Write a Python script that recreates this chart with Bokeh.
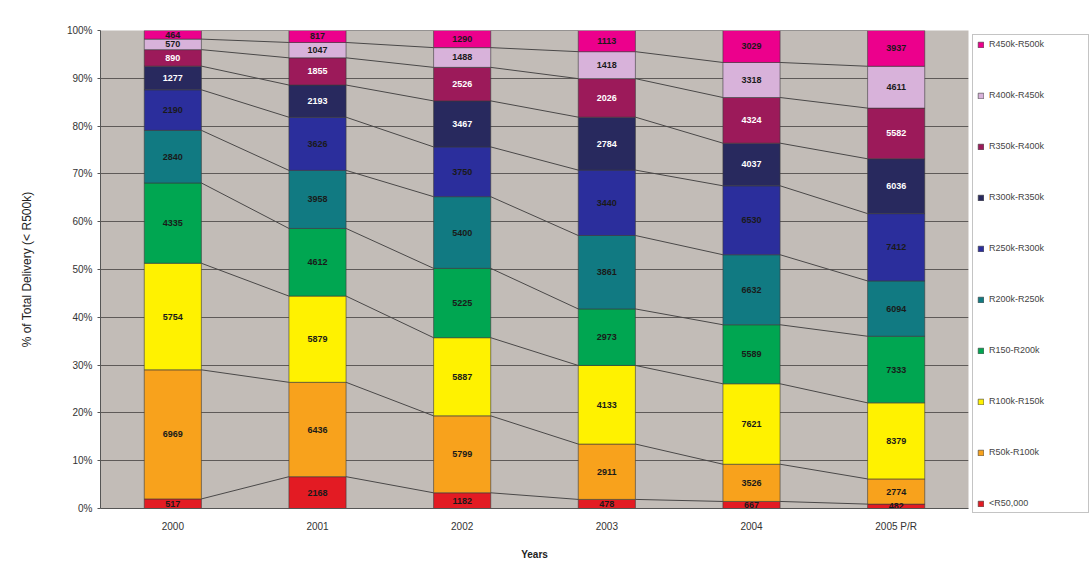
from bokeh.plotting import figure
from bokeh.models import (ColumnDataSource, FixedTicker, Legend, LegendItem, Range1d)
from bokeh.embed import file_html
from bokeh.resources import INLINE
from bokeh.core.properties import value

# Housing delivery per price band (units), by year
years = ["2000", "2001", "2002", "2003", "2004", "2005 P/R"]
bands = ["<R50,000", "R50k-R100k", "R100k-R150k", "R150-R200k", "R200k-R250k",
         "R250k-R300k", "R300k-R350k", "R350k-R400k", "R400k-R450k", "R450k-R500k"]

lt50 = [517, 2168, 1182, 478, 667, 482]
r50_100 = [6969, 6436, 5799, 2911, 3526, 2774]
r100_150 = [5754, 5879, 5887, 4133, 7621, 8379]
r150_200 = [4335, 4612, 5225, 2973, 5589, 7333]
r200_250 = [2840, 3958, 5400, 3861, 6632, 6094]
r250_300 = [2190, 3626, 3750, 3440, 6530, 7412]
r300_350 = [1277, 2193, 3467, 2784, 4037, 6036]
r350_400 = [890, 1855, 2526, 2026, 4324, 5582]
r400_450 = [570, 1047, 1488, 1418, 3318, 4611]
r450_500 = [464, 817, 1290, 1113, 3029, 3937]

series = [lt50, r50_100, r100_150, r150_200, r200_250,
          r250_300, r300_350, r350_400, r400_450, r450_500]

colors = ["#E31B23", "#F8A21C", "#FFF200", "#00A651", "#117A82",
          "#2B2E9C", "#28295E", "#9C1A5A", "#D8B2DA", "#EC008C"]
label_colors = ["#1a1a1a", "#1a1a1a", "#1a1a1a", "#1a1a1a", "#1a1a1a",
                "#1a1a1a", "#ffffff", "#ffffff", "#1a1a1a", "#1a1a1a"]

font = "Liberation Sans"
bar_w = 0.395
xs = list(range(len(years)))
totals = [sum(s[i] for s in series) for i in xs]

# percentage shares and cumulative stacking
pct = [[s[i] / totals[i] * 100 for i in xs] for s in series]
data = {"x": xs}
for b, p_ in zip(bands, pct):
    data[b] = p_
src = ColumnDataSource(data)

p = figure(frame_width=868, frame_height=478,
           x_range=Range1d(-0.5, 5.5), y_range=Range1d(0, 100),
           output_backend="svg", toolbar_location=None,
           min_border_left=100, min_border_right=0,
           min_border_top=30, min_border_bottom=55,
           background_fill_color="#C2BCB7", border_fill_color="white",
           outline_line_color=None)

renderers = p.vbar_stack(bands, x="x", width=bar_w, color=colors, source=src,
                         line_color="#3a3a3a", line_width=0.6)

# series lines joining the top of each band between neighbouring bars
lo = [0.0] * len(xs)
seg = {"x0": [], "y0": [], "x1": [], "y1": []}
lab = {"x": [], "y": [], "t": [], "c": []}
for k, s in enumerate(series):
    hi = [lo[i] + pct[k][i] for i in xs]
    for i in xs:
        lab["x"].append(i)
        lab["y"].append((lo[i] + hi[i]) / 2)
        lab["t"].append(str(s[i]))
        lab["c"].append(label_colors[k])
    for i in xs[:-1]:
        seg["x0"].append(i + bar_w / 2)
        seg["y0"].append(hi[i])
        seg["x1"].append(i + 1 - bar_w / 2)
        seg["y1"].append(hi[i + 1])
    lo = hi

p.segment(x0="x0", y0="y0", x1="x1", y1="y1", source=ColumnDataSource(seg),
          line_color="#4a4848", line_width=1)

p.text(x="x", y="y", text="t", source=ColumnDataSource(lab),
       text_color="c", text_font=value(font), text_font_size="9px",
       text_font_style="bold", text_align="center", text_baseline="middle")

# axes
p.yaxis.ticker = FixedTicker(ticks=list(range(0, 101, 10)))
p.yaxis.major_label_overrides = {v: f"{v}%" for v in range(0, 101, 10)}
p.xaxis.ticker = FixedTicker(ticks=xs)
p.xaxis.major_label_overrides = {i: y for i, y in enumerate(years)}
for ax in (p.xaxis[0], p.yaxis[0]):
    ax.major_label_text_font = font
    ax.major_label_text_font_size = "10px"
    ax.major_label_text_color = "#333333"
    ax.axis_line_color = "#555555"
    ax.major_tick_line_color = "#555555"
    ax.major_tick_out = 3
    ax.major_tick_in = 0
    ax.minor_tick_line_color = None
    ax.axis_label_text_font = font
    ax.axis_label_text_color = "#222222"
p.xaxis.major_tick_line_color = None
p.yaxis.axis_label = "% of Total Delivery (< R500k)"
p.yaxis.axis_label_text_font_size = "12px"
p.yaxis.axis_label_text_font_style = "normal"
p.yaxis.axis_label_standoff = 30
p.yaxis.major_label_standoff = 5
p.xaxis.axis_label = "Years"
p.xaxis.axis_label_text_font_size = "10px"
p.xaxis.axis_label_text_font_style = "bold"
p.xaxis.major_label_standoff = 9
p.xaxis.axis_label_standoff = 14

p.xgrid.grid_line_color = None
p.ygrid.grid_line_color = "#5e5a58"
p.ygrid.grid_line_width = 1

# legend, highest band on top
items = [LegendItem(label=bands[k], renderers=[renderers[k]])
         for k in reversed(range(len(bands)))]
legend = Legend(items=items, location="top_left", orientation="vertical",
                label_text_font=font, label_text_font_size="9px",
                label_text_color="#444444",
                glyph_width=7, glyph_height=7, label_height=10, label_width=95,
                label_standoff=5, spacing=41, padding=4, margin=4,
                border_line_color="#8a8a8a", border_line_width=1,
                background_fill_color="white", background_fill_alpha=1)
p.add_layout(legend, "right")

open("out.html", "w").write(file_html(p, INLINE))
